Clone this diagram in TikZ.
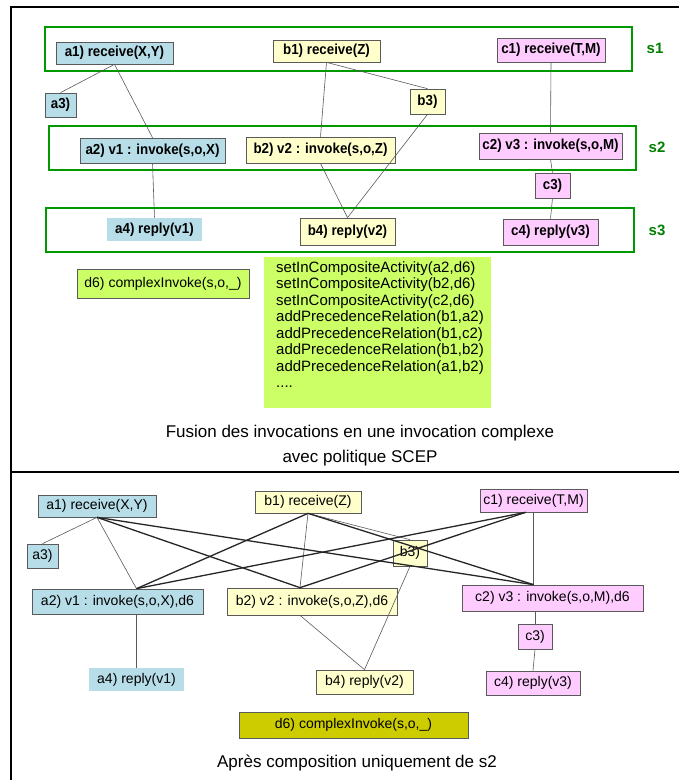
\documentclass[tikz,border=0pt]{standalone}
\usepackage{fontspec}
\setmainfont{Liberation Sans}
\newfontfamily\narrowsans[FakeStretch=0.92]{Liberation Sans}
\usetikzlibrary{calc}
\definecolor{cblue}{RGB}{183,221,232}
\definecolor{cyel}{RGB}{255,255,204}
\definecolor{cpink}{RGB}{255,204,255}
\definecolor{clime}{RGB}{204,255,102}
\definecolor{colive}{RGB}{204,204,0}
\definecolor{cgreen}{RGB}{0,153,0}
\definecolor{slab}{RGB}{0,128,0}
\definecolor{edgegray}{RGB}{90,90,90}
\begin{document}
\begin{tikzpicture}[x=1pt,y=-1pt,
 tb/.style={draw=edgegray, line width=0.7pt, inner sep=0pt, font=\narrowsans\fontsize{14.5}{14.5}\selectfont\bfseries},
 bb/.style={draw=edgegray, line width=0.7pt, inner sep=0pt, font=\fontsize{14}{14}\selectfont},
 sbox/.style={draw=cgreen, line width=2.6pt},
 slabel/.style={text=slab, font=\fontsize{15}{15}\selectfont\bfseries},
 lnthin/.style={draw=edgegray, line width=0.6pt},
 lnthick/.style={draw=black!85, line width=1.3pt},
 captxt/.style={font=\fontsize{17}{17}\selectfont}
]
\useasboundingbox (0,0) rectangle (679,780);
\fill[white] (0,0) rectangle (679,780);
\draw[line width=1.5pt] (11,780) -- (11,7) -- (679,7);
\draw[line width=1.2pt] (11,472) -- (679,472);

% ---------- top part ----------
\draw[sbox] (45,27) rectangle (632,71);
\draw[sbox] (49,126) rectangle (636,170);
\draw[sbox] (46,208) rectangle (634,252);
\node[slabel] (s1) at (655,48) {s1};
\node[slabel] (s2) at (657,147) {s2};
\node[slabel] (s3) at (657,230) {s3};

\node[tb, fill=cblue, minimum width=117pt, minimum height=22pt] (a1) at (114.5,53) {a1) receive(X,Y)};
\node[tb, fill=cblue, minimum width=31pt, minimum height=24pt] (a3) at (60.5,105) {a3)};
\node[tb, fill=cblue, minimum width=145pt, minimum height=25pt] (a2) at (152.5,150.5) {a2) v1 : invoke(s,o,X)};
\node[tb, draw=none, fill=cblue, minimum width=95pt, minimum height=23pt] (a4) at (154.5,229.5) {a4) reply(v1)};
\node[tb, fill=cyel, minimum width=107pt, minimum height=22pt] (b1) at (326.5,51) {b1) receive(Z)};
\node[tb, fill=cyel, minimum width=35pt, minimum height=25pt] (b3) at (427.5,101.5) {b3)};
\node[tb, fill=cyel, minimum width=149pt, minimum height=26pt] (b2) at (320.5,150) {b2) v2 : invoke(s,o,Z)};
\node[tb, fill=cyel, minimum width=95pt, minimum height=27pt] (b4) at (347.5,231.5) {b4) reply(v2)};
\node[tb, fill=cpink, minimum width=108pt, minimum height=24pt] (c1) at (551,50) {c1) receive(T,M)};
\node[tb, fill=cpink, minimum width=143pt, minimum height=26pt] (c2) at (550.5,146) {c2) v3 : invoke(s,o,M)};
\node[tb, fill=cpink, minimum width=35pt, minimum height=25pt] (c3) at (552.5,185.5) {c3)};
\node[tb, fill=cpink, minimum width=95pt, minimum height=26pt] (c4) at (550.5,232) {c4) reply(v3)};

\draw[lnthin] (a1.south) -- (a3.north);
\draw[lnthin] (a1.south) -- (a2.north);
\draw[lnthin] (a2.south) -- (a4.north);
\draw[lnthin] (b1.south) -- (b2.north);
\draw[lnthin] (b1.south) -- (b3.north);
\draw[lnthin] (b2.south) -- (b4.north);
\draw[lnthin] (b3.south) -- (b4.north);
\draw[lnthin] (c1.south) -- (c2.north);
\draw[lnthin] (c2.south) -- (c3.north);
\draw[lnthin] (c3.south) -- (c4.north);

\node[bb, fill=clime, minimum width=172pt, minimum height=29pt] (d6a) at (163,283.5) {d6) complexInvoke(s,o,\_)};
\fill[clime] (264,257) rectangle (491,408);
\node[anchor=north west, inner sep=0pt, align=left, font=\fontsize{15}{16.5}\selectfont] (lst) at (276,261) {setInCompositeActivity(a2,d6)\\
setInCompositeActivity(b2,d6)\\
setInCompositeActivity(c2,d6)\\
addPrecedenceRelation(b1,a2)\\
addPrecedenceRelation(b1,c2)\\
addPrecedenceRelation(b1,b2)\\
addPrecedenceRelation(a1,b2)\\
....};
\node[captxt] (cap1) at (360,433) {Fusion des invocations en une invocation complexe};
\node[captxt] (cap2) at (360,458) {avec politique SCEP};

% ---------- bottom part ----------
\node[bb, fill=cblue, minimum width=118pt, minimum height=22pt] (A1) at (97,506) {a1) receive(X,Y)};
\node[bb, fill=cyel, minimum width=106pt, minimum height=22pt] (B1) at (308,502) {b1) receive(Z)};
\node[bb, fill=cpink, minimum width=107pt, minimum height=23pt] (C1) at (533.5,500.5) {c1) receive(T,M)};
\node[bb, fill=cblue, minimum width=31pt, minimum height=24pt] (A3) at (42.5,556) {a3)};
\node[bb, fill=cyel, minimum width=34pt, minimum height=26pt] (B3) at (410,553) {b3)};
\node[bb, fill=cblue, minimum width=171pt, minimum height=25pt] (A2) at (117.5,601.5) {a2) v1 : invoke(s,o,X),d6};
\node[bb, fill=cyel, minimum width=170pt, minimum height=27pt] (B2) at (312,601.5) {b2) v2 : invoke(s,o,Z),d6};
\node[bb, fill=cpink, minimum width=181pt, minimum height=26pt] (C2) at (552.5,598) {c2) v3 : invoke(s,o,M),d6};
\node[bb, fill=cpink, minimum width=34pt, minimum height=25pt] (C3) at (535,636.5) {c3)};
\node[bb, draw=none, fill=cblue, minimum width=95pt, minimum height=23pt] (A4) at (136.5,679.5) {a4) reply(v1)};
\node[bb, fill=cyel, minimum width=97pt, minimum height=24pt] (B4) at (364.5,682) {b4) reply(v2)};
\node[bb, fill=cpink, minimum width=94pt, minimum height=24pt] (C4) at (533,683) {c4) reply(v3)};
\node[bb, fill=colive, minimum width=229pt, minimum height=26pt] (D6) at (353.5,725) {d6) complexInvoke(s,o,\_)};
\node[captxt] (cap3) at (357,763) {Après composition uniquement de s2};

\coordinate (A2t) at (A4.north |- A2.north);
\coordinate (A2b) at (A4.north |- A2.south);
\coordinate (B2t) at ($(B2.north)+(-12,0)$);
\coordinate (B2b) at ($(B2.south)+(-12,0)$);
\coordinate (C2t) at (C1.south |- C2.north);
\coordinate (C2b) at (C3.north |- C2.south);
\coordinate (C1l) at ($(C1.south)+(-8,0)$);

\draw[lnthin] (A1.south) -- (A3.north);
\draw[lnthin] (A1.south) -- (A2t);
\draw[lnthin] (B1.south) -- (B2t);
\draw[lnthin] (B1.south) -- (B3.north);
\draw[lnthin] (C1.south) -- (C2t);
\draw[lnthin] (A2b) -- (A4.north);
\draw[lnthin] (B2b) -- (B4.north);
\draw[lnthin] (B3.south) -- (B4.north);
\draw[lnthin] (C2b) -- (C3.north);
\draw[lnthin] (C3.south) -- (C4.north);

\draw[lnthick] (A1.south) -- (B2t);
\draw[lnthick] (A1.south) -- (C2t);
\draw[lnthick] (B1.south) -- (A2t);
\draw[lnthick] (B1.south) -- (C2t);
\draw[lnthick] (C1l) -- (A2t);
\draw[lnthick] (C1l) -- (B2t);
\end{tikzpicture}
\end{document}
